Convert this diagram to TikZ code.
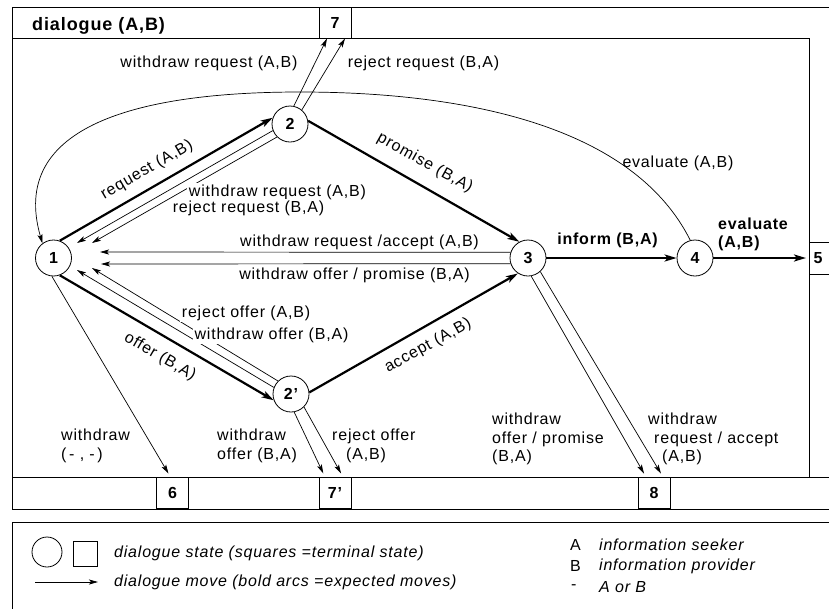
\documentclass[tikz,border=0pt]{standalone}
\usepackage{fontspec}
\setmainfont{Liberation Sans}[LetterSpace=5]
\usepackage{tikz}
\usetikzlibrary{arrows.meta,positioning,calc}

\begin{document}
\begin{tikzpicture}[x=1pt,y=-1pt,
  every node/.style={font=\fontsize{16}{18.5}\selectfont,inner sep=1pt},
  boldtxt/.style={font=\fontsize{16}{18.5}\selectfont\bfseries},
  itxt/.style={font=\fontsize{16}{18.5}\selectfont\itshape},
  state/.style={circle,draw,line width=0.8pt,minimum size=36pt,inner sep=0pt,boldtxt},
  term/.style={rectangle,draw,line width=1pt,minimum width=32pt,minimum height=31pt,inner sep=0pt,boldtxt},
  move/.style={-{Stealth[length=9pt,width=5pt,inset=2pt]},line width=0.7pt},
  expected/.style={-{Stealth[length=12pt,width=7pt,inset=3pt]},line width=2.2pt},
  gap/.style={fill=white,inner sep=1.5pt},
  frame/.style={line width=1pt}]

  \fill[white] (0,0) rectangle (829,608);
  \useasboundingbox (0,0) rectangle (829,608);

  % frame, header and bottom strip
  \draw[frame] (840,7) -- (12,7) -- (12,509) -- (840,509);
  \draw[frame] (12,38) -- (809,38) -- (809,477);
  \draw[frame] (12,477) -- (840,477);
  \draw[frame] (840,522) -- (12,522) -- (12,620);
  \node[font=\fontsize{18}{20}\selectfont\bfseries,anchor=base west] (title) at (31,30) {dialogue (A,B)};

  % terminal states
  \node[term] (t7) at (335,22.5) {7};
  \node[term] (t6) at (172.5,493) {6};
  \node[term] (t7p) at (335,493) {7'};
  \node[term] (t8) at (654,493) {8};
  \node[term,anchor=west,minimum width=0pt,minimum height=32pt,text width=24pt,inner xsep=4pt,align=left] (t5) at (809,258) {5};

  % dialogue states
  \node[state] (s1) at (53.5,258) {1};
  \node[state] (s2) at (290,124) {2};
  \node[state] (s2p) at (291,394) {2'};
  \node[state] (s3) at (528,258) {3};
  \node[state] (s4) at (695,258) {4};

  % free ends of the moves back to 1
  \coordinate (r1) at (77,243);
  \coordinate (r2) at (92,243);
  \coordinate (h1) at (100,252);
  \coordinate (h2) at (101,264);
  \coordinate (o1) at (77,270);
  \coordinate (o2) at (92,268);

  % expected moves
  \draw[expected] (s1.70) -- (s2.160);
  \draw[expected] (s1.290) -- (s2p.200);
  \draw[expected] (s2.10) -- (s3.118);
  \draw[expected] (s2p.5) -- (s3.237);
  \draw[expected] (s3) -- (s4);
  \draw[expected,shorten >=3pt] (s4) -- (t5);

  % other moves
  \draw[move] (s2.201) -- (r1);
  \draw[move] (s2.225) -- (r2);
  \draw[move] (s3.162) -- (h1);
  \draw[move] (s3.198) -- (h2);
  \draw[move] (s2p.159) -- (o1);
  \draw[move] (s2p.135) -- (o2);
  \draw[move] (s2.78) -- ([xshift=-8pt]t7.south);
  \draw[move] (s2.50) -- ([xshift=10pt]t7.south);
  \draw[move,shorten >=4pt] (s2p.-80) -- ([xshift=-10pt]t7p.north);
  \draw[move,shorten >=4pt] (s2p.-45) -- ([xshift=8pt]t7p.north);
  \draw[move,shorten >=4pt] (s3.-80) -- ([xshift=-8pt]t8.north);
  \draw[move,shorten >=4pt] (s3.-48) -- ([xshift=9pt]t8.north);
  \draw[move,shorten >=4pt] (s1.-95) -- ([xshift=-2pt]t6.north);
  \draw[move] (s4.105) .. controls (630,120) and (450,92) .. (300,92)
    .. controls (140,92) and (8,125) .. (s1.127);

  % move labels
  \node (lwr7) at (209,63) {withdraw request (A,B)};
  \node (lrr7) at (423.5,63) {reject request (B,A)};
  \node[rotate=30] (lreq) at (147,170) {request (A,B)};
  \node[gap] (lwr1) at (277.5,192) {withdraw request (A,B)};
  \node[gap] (lrr1) at (248.5,208) {reject request (B,A)};
  \node[rotate=-29] (lpro) at (425,163) {promise (B,A)};
  \node (lev4) at (678,163) {evaluate (A,B)};
  \node (lwra) at (359.5,242) {withdraw request /accept (A,B)};
  \node (lwop) at (354.5,275) {withdraw offer / promise (B,A)};
  \node[boldtxt] (linf) at (607.5,240) {inform (B,A)};
  \node[boldtxt,align=left,anchor=west] (lev5) at (717,234.5) {evaluate\\(A,B)};
  \node[gap] (lro1) at (246,313) {reject offer (A,B)};
  \node[gap] (lwo1) at (271.5,335) {withdraw offer (B,A)};
  \node[rotate=-30] (loff) at (160,357) {offer (B,A)};
  \node[rotate=29] (lacc) at (428,346) {accept (A,B)};
  \node[align=left,anchor=west] (lw6) at (60,446) {withdraw\\(\,- , -\,)};
  \node[align=left,anchor=west] (lwo7) at (216,446) {withdraw\\offer (B,A)};
  \node[align=left,anchor=west] (lro7) at (331,446) {reject offer\\\hspace{14pt}(A,B)};
  \node[align=left,anchor=west] (lwop8) at (491,439) {withdraw\\offer / promise\\(B,A)};
  \node[align=left,anchor=west] (lwra8) at (647,439) {withdraw\\\hspace{6pt}request / accept\\\hspace{14pt}(A,B)};

  % legend
  \node[circle,draw,line width=0.8pt,minimum size=30pt] (lcirc) at (47,552) {};
  \node[rectangle,draw,line width=0.8pt,minimum width=24pt,minimum height=25pt] (lsq) at (85,553.5) {};
  \node[itxt,anchor=west] (lstate) at (113,553) {dialogue state (squares =terminal state)};
  \coordinate (lm1) at (35,582);
  \coordinate (lm2) at (98,582);
  \draw[move] (lm1) -- (lm2);
  \node[itxt,anchor=west] (lmove) at (113,582) {dialogue move (bold arcs =expected moves)};
  \node[anchor=west] (lA) at (569,545) {A};
  \node[itxt,anchor=west] (lAt) at (598,545) {information seeker};
  \node[anchor=west] (lB) at (569,566) {B};
  \node[itxt,anchor=west] (lBt) at (598,566) {information provider};
  \node[anchor=west] (lC) at (570,587) {-};
  \node[itxt,anchor=west] (lCt) at (598,587) {A or B};
\end{tikzpicture}
\end{document}
